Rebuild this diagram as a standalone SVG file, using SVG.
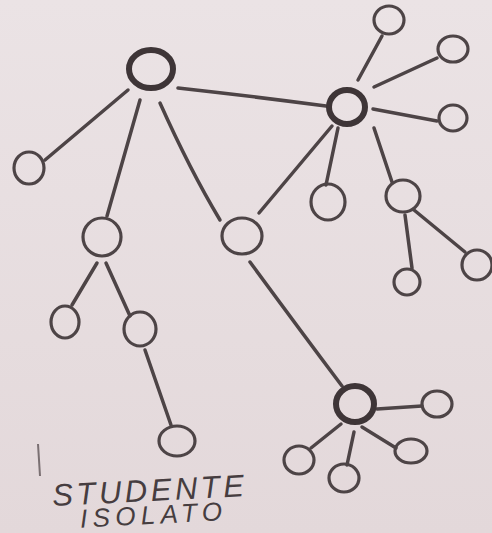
<svg xmlns="http://www.w3.org/2000/svg" width="492" height="533" viewBox="0 0 492 533">
<defs>
<linearGradient id="bg" x1="0" y1="0" x2="0" y2="1">
<stop offset="0" stop-color="#ebe3e5"/>
<stop offset="1" stop-color="#e3d8da"/>
</linearGradient>
<style>
.e{fill:none;stroke:#4d4446;stroke-width:3.5;stroke-linecap:round}
.n{fill:none;stroke:#4d4446;stroke-width:3.2}
.h{fill:none;stroke:#3e3537;stroke-width:6}
.t{font-family:"Liberation Sans",Arial,sans-serif;font-style:italic;fill:#463d40}
</style>
</defs>
<rect width="492" height="533" fill="url(#bg)"/>
<g id="connectors">
<path class="e" d="M178 88 Q250 96 326 106"/>
<path class="e" d="M128 90 L45 160"/>
<path class="e" d="M140 100 L107 216"/>
<path class="e" d="M160 103 Q190 170 220 220"/>
<path class="e" d="M97 263 L72 305"/>
<path class="e" d="M106 263 L130 316"/>
<path class="e" d="M145 350 L171 425"/>
<path class="e" d="M259 213 L332 126"/>
<path class="e" d="M250 262 Q300 330 342 386"/>
<path class="e" d="M358 80 L382 36"/>
<path class="e" d="M374 87 L437 58"/>
<path class="e" d="M373 109 L437 121"/>
<path class="e" d="M338 128 L326 185"/>
<path class="e" d="M374 128 L392 182"/>
<path class="e" d="M405 215 L412 268"/>
<path class="e" d="M414 210 L465 252"/>
<path class="e" d="M377 409 L422 406"/>
<path class="e" d="M362 427 L396 448"/>
<path class="e" d="M354 432 L347 465"/>
<path class="e" d="M341 424 L311 448"/>
<path d="M38 444 L40 476" fill="none" stroke="#7a7072" stroke-width="2"/>
</g>
<g id="node-A"><ellipse class="h" cx="151" cy="69" rx="22" ry="19"/></g>
<g id="node-B"><ellipse class="h" cx="347" cy="107" rx="18" ry="17" stroke-width="5"/></g>
<g id="node-B1"><ellipse class="n" cx="389" cy="20" rx="15" ry="14"/></g>
<g id="node-B2"><ellipse class="n" cx="453" cy="49" rx="15" ry="13"/></g>
<g id="node-B3"><ellipse class="n" cx="453" cy="118" rx="14" ry="13"/></g>
<g id="node-C"><ellipse class="n" cx="29" cy="168" rx="15" ry="16"/></g>
<g id="node-D"><ellipse class="n" cx="102" cy="237" rx="19" ry="19"/></g>
<g id="node-E"><ellipse class="n" cx="65" cy="322" rx="14" ry="16"/></g>
<g id="node-F"><ellipse class="n" cx="140" cy="329" rx="16" ry="17"/></g>
<g id="node-G"><ellipse class="n" cx="177" cy="441" rx="18" ry="15"/></g>
<g id="node-H"><ellipse class="n" cx="242" cy="236" rx="20" ry="18"/></g>
<g id="node-I"><ellipse class="n" cx="328" cy="202" rx="17" ry="18"/></g>
<g id="node-J"><ellipse class="n" cx="403" cy="196" rx="17" ry="16"/></g>
<g id="node-K"><ellipse class="n" cx="407" cy="282" rx="13" ry="13"/></g>
<g id="node-L"><ellipse class="n" cx="477" cy="265" rx="15" ry="15"/></g>
<g id="node-M"><ellipse class="h" cx="355" cy="404" rx="19" ry="18"/></g>
<g id="node-N"><ellipse class="n" cx="437" cy="404" rx="15" ry="13"/></g>
<g id="node-O"><ellipse class="n" cx="411" cy="451" rx="16" ry="12"/></g>
<g id="node-P"><ellipse class="n" cx="344" cy="478" rx="15" ry="14"/></g>
<g id="node-Q"><ellipse class="n" cx="299" cy="460" rx="15" ry="14"/></g>
<g id="label">
<text class="t" x="52" y="501" font-size="31" textLength="192" lengthAdjust="spacing" transform="rotate(-3 150 490)">STUDENTE</text>
<text class="t" x="80" y="524" font-size="26" textLength="142" lengthAdjust="spacing" transform="rotate(-3 150 514)">ISOLATO</text>
</g>
</svg>
